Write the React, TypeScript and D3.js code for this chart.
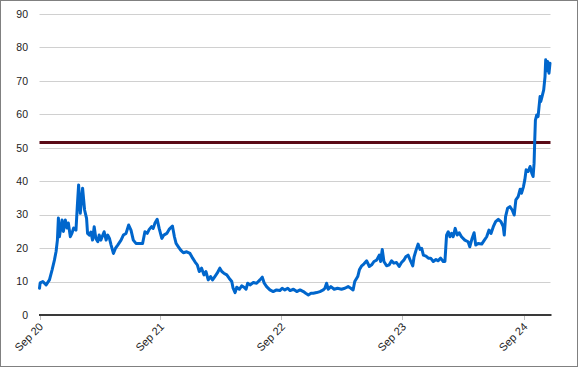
import React from "react";
import * as d3 from "d3";

// Series: days since 2020-09-01 and value
const startDate = new Date(2020, 8, 1);
const dayOffsets: number[] = [
  0, 2, 10, 20, 30, 38, 45, 50, 54, 57, 60, 65, 68, 72, 78, 83, 87, 93, 98, 103,
  110, 114, 118, 123, 130, 136, 142, 145, 150, 155, 160, 165, 170, 176, 180, 185,
  195, 201, 206, 211, 216, 223, 229, 236, 246, 253, 261, 269, 276, 283, 291, 301,
  311, 318, 325, 331, 338, 343, 348, 355, 361, 369, 375, 384, 391, 401, 407, 412,
  419, 426, 434, 444, 454, 462, 469, 476, 482, 489, 496, 502, 509, 516, 522, 529,
  536, 544, 550, 556, 565, 572, 580, 584, 590, 595, 603, 610, 617, 623, 628, 635,
  645, 655, 665, 672, 678, 685, 695, 705, 715, 725, 732, 740, 749, 756, 766, 776,
  786, 796, 803, 811, 819, 826, 836, 846, 856, 861, 866, 871, 879, 889, 899, 911,
  921, 931, 939, 946, 951, 960, 965, 972, 979, 987, 995, 1002, 1009, 1017, 1025,
  1029, 1034, 1039, 1047, 1055, 1062, 1069, 1077, 1085, 1092, 1099, 1105, 1112,
  1120, 1126, 1130, 1136, 1142, 1148, 1153, 1158, 1166, 1173, 1180, 1188, 1196,
  1202, 1210, 1218, 1223, 1228, 1233, 1238, 1243, 1248, 1254, 1260, 1266, 1273,
  1283, 1293, 1298, 1305, 1311, 1316, 1323, 1334, 1342, 1349, 1356, 1362, 1369,
  1376, 1384, 1392, 1399, 1402, 1406, 1412, 1419, 1426, 1432, 1437, 1444, 1450,
  1454, 1460, 1464, 1468, 1474, 1480, 1485, 1489, 1492, 1494, 1496, 1500, 1504,
  1510, 1512, 1516, 1521, 1525, 1527, 1530, 1533, 1537, 1540,
];
const values: number[] = [
  8.0, 9.6, 10, 9.0, 10.5, 13.5, 16.4, 19, 22.4, 29, 23.4, 26.4, 28.4, 25, 28.4, 26, 27.5, 23.4, 24.5, 26,
  25.4, 32.4, 38.9, 30.4, 37.9, 31.4, 28.9, 24.4, 23.9, 24.8, 22.4, 26.4, 22.9, 21.9, 23.9, 22.4,
  24.9, 22.4, 23.9, 22.9, 20.9, 18.4, 19.9, 20.9, 22.4, 23.9, 24.4, 26.9, 25.4, 22.4, 21.4, 21.4,
  21.4, 24.9, 24.4, 25.6, 26.4, 25.9, 27.4, 28.6, 25.9, 22.9, 23.9, 24.4, 25.6, 26.6, 23.4, 21.4,
  20.4, 19.4, 18.6, 18.9, 18.4, 17, 15.9, 15, 13, 14, 12, 13, 10.5, 11.5, 10.5, 11.5,
  12.5, 14, 13, 12.5, 12, 11, 10, 8, 6.7, 8.3, 7.7, 8.7, 8.3, 7.7, 9.5, 9,
  9.7, 9.5, 10.5, 11.3, 9.5, 8.5, 7.5, 7, 7.5, 7.3, 8, 7.5, 8, 7.3, 7.7, 7,
  7.5, 7, 6.5, 6, 6.5, 6.5, 6.7, 7, 7.5, 8, 9.5, 7.7, 8.5, 7.7, 8, 7.7,
  8, 8.5, 8, 7.5, 10, 11.5, 13.5, 14.7, 15.3, 16.2, 14.5, 15, 16, 16.4, 17.9,
  16, 19.6, 16, 14.7, 15, 16.2, 15.5, 15.7, 14.5, 15.7, 16.4, 17.4, 17.9,
  16, 14.7, 17.4, 19.4, 21.2, 19.6, 19.9, 17.9, 17.6, 17, 17, 16, 16.6,
  16.2, 17, 16, 16, 23.9, 24.9, 23.4, 24.4, 23.4, 25.9, 23.9, 24.6, 23.4,
  22.4, 21.9, 20.4, 22.9, 24.6, 20.9, 21.4, 21.2, 22.4, 23.4, 25.4, 24.4, 26.4,
  27.9, 28.6, 27.9, 26.4, 23.9, 29.4, 31.9, 32.4, 31.4, 29.9, 34.4, 35.4, 37.6,
  36.4, 38.4, 40.4, 43.4, 42.9, 44.4, 42.4, 41.4, 45.4, 52.3, 58.3, 59.8, 59.3,
  65.3, 63.8, 65.3, 67.3, 71.3, 76.3, 73, 75.8, 72.3, 75.3,
];
const thresholdValue = 51.6;
const yTicks: number[] = [0, 10, 20, 30, 40, 50, 60, 70, 80, 90];
const xTickLabels: string[] = ["Sep 20", "Sep 21", "Sep 22", "Sep 23", "Sep 24"];
const xTickDates: Date[] = [
  new Date(2020, 8, 1),
  new Date(2021, 8, 1),
  new Date(2022, 8, 1),
  new Date(2023, 8, 1),
  new Date(2024, 8, 1),
];

const W = 578;
const H = 367;
const left = 39.5;
const right = 550.5;
const top = 14;
const bottom = 315;

export default function App() {
  const dates = dayOffsets.map((d) => d3.timeDay.offset(startDate, d));
  const data = dates.map((d, i) => ({ d, v: values[i] }));
  const x = d3
    .scaleTime()
    .domain([startDate, dates[dates.length - 1]])
    .range([left, right - 0.5]);
  const y = d3.scaleLinear().domain([0, 90]).range([bottom, top]);
  const line = d3
    .line<{ d: Date; v: number }>()
    .x((p) => x(p.d))
    .y((p) => y(p.v));
  const font = "'Liberation Sans', Arial, sans-serif";

  return (
    <svg
      width={W}
      height={H}
      style={{ position: "fixed", left: 0, top: 0, background: "#fff" }}
    >
      <rect x={0.5} y={0.5} width={W - 1} height={H - 1} fill="#fff" stroke="#808080" />
      {yTicks.map((t) => (
        <g key={t}>
          {t > 0 && (
            <line
              x1={left}
              x2={right}
              y1={Math.round(y(t)) + 0.5}
              y2={Math.round(y(t)) + 0.5}
              stroke="#d0d0d0"
              strokeWidth={1}
            />
          )}
          <text
            x={28}
            y={y(t)}
            dy="0.36em"
            textAnchor="end"
            fontFamily={font}
            fontSize={10.5}
            fill="#222"
          >
            {t}
          </text>
        </g>
      ))}
      <line
        x1={left}
        x2={right}
        y1={y(thresholdValue)}
        y2={y(thresholdValue)}
        stroke="#5a0a16"
        strokeWidth={3}
      />
      <path
        d={line(data) || ""}
        fill="none"
        stroke="#0066cc"
        strokeWidth={3}
        strokeLinejoin="round"
        strokeLinecap="round"
      />
      <line x1={left - 0.5} x2={right + 1} y1={bottom} y2={bottom} stroke="#3a3a3a" strokeWidth={2} />
      {xTickDates.map((d, i) => (
        <g key={i}>
          <line
            x1={Math.round(x(d)) + 0.5}
            x2={Math.round(x(d)) + 0.5}
            y1={bottom + 1}
            y2={bottom + 5}
            stroke="#bfbfbf"
          />
          <text
            transform={`translate(${x(d) - 1},${bottom + 7}) rotate(-45)`}
            textAnchor="end"
            dy="0.7em"
            fontFamily={font}
            fontSize={11}
            fill="#222"
          >
            {xTickLabels[i]}
          </text>
        </g>
      ))}
    </svg>
  );
}
